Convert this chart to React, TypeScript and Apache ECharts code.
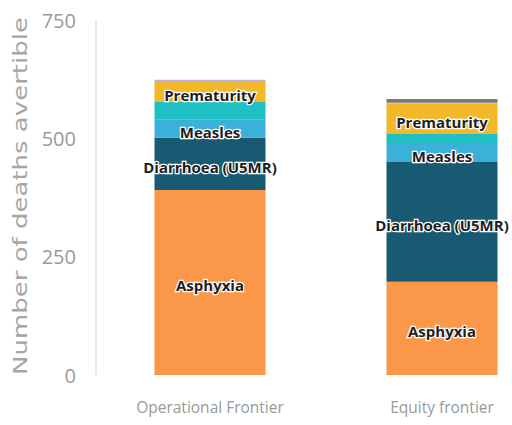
import React, { useEffect, useRef } from "react";
import * as echarts from "echarts";

const categories = ["Operational Frontier", "Equity frontier"];
const asphyxia = [391, 197];
const diarrhoea = [110, 253];
const measles = [38, 38];
const unlabelledCause = [38, 21];
const prematurity = [42, 64];
const otherA = [5, 2];
const otherB = [0, 8];
const yTicks = { min: 0, max: 750, interval: 250 };
const yAxisTitle = "Number of deaths avertible";

const FONT = "Open Sans";

export default function App() {
  const ref = useRef<HTMLDivElement>(null);
  useEffect(() => {
    if (!ref.current) return;
    const chart = echarts.init(ref.current, undefined, { renderer: "svg" });
    const mk = (name: string, data: number[], color: string, show: boolean) => ({
      name,
      type: "bar" as const,
      stack: "total",
      data,
      barWidth: 111,
      itemStyle: { color },
      label: {
        show,
        position: "inside" as const,
        formatter: name,
        offset: [0, 3],
        color: "#1e1e1e",
        fontFamily: FONT,
        fontWeight: "bold" as const,
        fontSize: 15,
        textBorderColor: "#ffffff",
        textBorderWidth: 2.5,
      },
      emphasis: { disabled: true },
    });
    chart.setOption({
      animation: false,
      grid: { left: 210, top: 20, bottom: 50, right: 70 },
      graphic: [
        {
          type: "text",
          x: 20,
          y: 196,
          rotation: Math.PI / 2,
          scaleX: 1.3,
          style: {
            text: yAxisTitle,
            fill: "#a6a6a6",
            fontSize: 20,
            fontFamily: "DejaVu Sans",
            align: "center",
            verticalAlign: "middle",
          },
        },
      ],
      xAxis: {
        type: "category",
        data: categories,
        boundaryGap: false,
        axisLine: { show: false },
        axisTick: { show: false },
        axisLabel: { color: "#999999", fontSize: 15.5, fontFamily: FONT, margin: 24 },
      },
      yAxis: {
        type: "value",
        min: yTicks.min,
        max: yTicks.max,
        interval: yTicks.interval,
        offset: 114,
        axisLine: { show: true, lineStyle: { color: "#e8e8e8", width: 2 } },
        axisTick: { show: false },
        splitLine: { show: false },
        axisLabel: { color: "#9a9a9a", fontSize: 20, fontFamily: FONT, margin: 20 },
      },
      series: [
        mk("Asphyxia", asphyxia, "#fa9748", true),
        mk("Diarrhoea (U5MR)", diarrhoea, "#175a72", true),
        mk("Measles", measles, "#3bb1d9", true),
        mk("Unlabelled cause", unlabelledCause, "#1fbfc6", false),
        mk("Prematurity", prematurity, "#f3b72a", true),
        mk("Other A", otherA, "#b9b2e2", false),
        mk("Other B", otherB, "#7e7c6c", false),
      ],
    });
    return () => chart.dispose();
  }, []);
  return (
    <div
      ref={ref}
      style={{ position: "absolute", left: 0, top: 0, width: 512, height: 425, background: "#ffffff" }}
    />
  );
}
